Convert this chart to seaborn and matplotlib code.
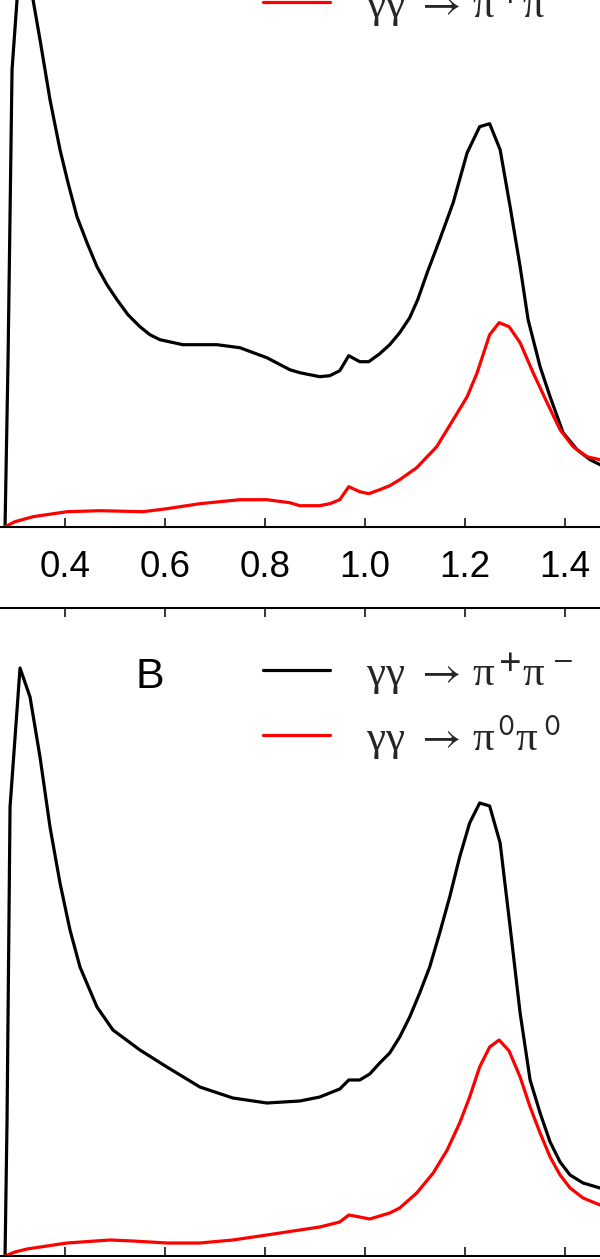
import numpy as np
import matplotlib
matplotlib.use("Agg")
import matplotlib.pyplot as plt
import seaborn as sns

# energy (GeV) and curves, arbitrary units
xa_black = [0.280, 0.286, 0.294, 0.304, 0.312, 0.322, 0.336, 0.350, 0.370, 0.390, 0.406,
            0.424, 0.444, 0.464, 0.484, 0.504, 0.526, 0.550, 0.570, 0.590, 0.636, 0.704,
            0.750, 0.804, 0.850, 0.870, 0.910, 0.930, 0.950, 0.968, 0.990, 1.008, 1.030,
            1.050, 1.070, 1.090, 1.106, 1.125, 1.150, 1.177, 1.205, 1.230, 1.250, 1.271,
            1.291, 1.311, 1.327, 1.351, 1.371, 1.397, 1.425, 1.451, 1.471, 1.480]
ya_black = [0.00, 1.67, 4.57, 5.27, 5.72, 5.57, 5.27, 4.87, 4.27, 3.77, 3.44,
            3.10, 2.84, 2.60, 2.42, 2.27, 2.12, 2.00, 1.92, 1.87, 1.82, 1.82,
            1.79, 1.69, 1.57, 1.54, 1.50, 1.51, 1.56, 1.71, 1.65, 1.65, 1.73,
            1.82, 1.94, 2.09, 2.27, 2.54, 2.87, 3.24, 3.74, 4.00, 4.03, 3.77,
            3.20, 2.60, 2.07, 1.60, 1.30, 0.94, 0.77, 0.67, 0.62, 0.60]

xa_red = [0.280, 0.300, 0.336, 0.404, 0.470, 0.556, 0.604, 0.670, 0.750, 0.804, 0.850, 0.870,
          0.910, 0.930, 0.950, 0.968, 0.990, 1.008, 1.030, 1.050, 1.070, 1.104, 1.144,
          1.177, 1.205, 1.225, 1.250, 1.269, 1.289, 1.311, 1.337, 1.365, 1.391, 1.417,
          1.445, 1.471, 1.480]
ya_red = [0.00, 0.05, 0.10, 0.15, 0.16, 0.15, 0.18, 0.23, 0.27, 0.27, 0.24, 0.21,
          0.21, 0.23, 0.27, 0.40, 0.35, 0.33, 0.37, 0.41, 0.47, 0.59, 0.80,
          1.07, 1.30, 1.54, 1.92, 2.04, 2.00, 1.84, 1.54, 1.24, 0.97, 0.80,
          0.70, 0.67, 0.66]

xb_black = [0.280, 0.284, 0.290, 0.310, 0.330, 0.350, 0.370, 0.390, 0.410, 0.430, 0.464,
            0.496, 0.550, 0.604, 0.670, 0.736, 0.804, 0.870, 0.910, 0.930, 0.950, 0.968,
            0.990, 1.010, 1.030, 1.050, 1.070, 1.090, 1.110, 1.130, 1.150, 1.170, 1.190,
            1.210, 1.230, 1.250, 1.271, 1.291, 1.311, 1.331, 1.351, 1.371, 1.391, 1.411,
            1.437, 1.471, 1.480]
yb_black = [0.00, 1.36, 4.49, 5.88, 5.59, 4.99, 4.29, 3.73, 3.26, 2.89, 2.49,
            2.26, 2.06, 1.89, 1.69, 1.58, 1.53, 1.55, 1.59, 1.63, 1.67, 1.76,
            1.76, 1.82, 1.93, 2.03, 2.19, 2.39, 2.63, 2.89, 3.23, 3.59, 3.99,
            4.33, 4.53, 4.50, 4.13, 3.29, 2.43, 1.76, 1.43, 1.14, 0.94, 0.81,
            0.73, 0.68, 0.67]

xb_red = [0.280, 0.300, 0.324, 0.404, 0.490, 0.536, 0.604, 0.670, 0.736, 0.804, 0.870, 0.910,
          0.950, 0.968, 0.990, 1.010, 1.050, 1.070, 1.104, 1.137, 1.165, 1.190, 1.210,
          1.230, 1.250, 1.269, 1.289, 1.311, 1.331, 1.351, 1.371, 1.391, 1.411, 1.437,
          1.471, 1.480]
yb_red = [0.00, 0.04, 0.07, 0.13, 0.16, 0.15, 0.13, 0.13, 0.16, 0.21, 0.26, 0.29,
          0.34, 0.41, 0.39, 0.37, 0.43, 0.48, 0.63, 0.83, 1.06, 1.33, 1.59,
          1.89, 2.09, 2.16, 2.05, 1.79, 1.49, 1.23, 0.99, 0.81, 0.68, 0.58,
          0.51, 0.50]

xticks = [0.4, 0.6, 0.8, 1.0, 1.2, 1.4]
pipm = r"γγ $\rightarrow\,$π$^{\,\mathbf{+}}$π$^{\ \mathsf{-}}$"
pi00 = r"γγ $\rightarrow\,$π$^{\,\mathsf{0}}$π$^{\ \mathsf{0}}$"
labels_a = [pi00, pipm]
labels_b = [pipm, pi00]

sns.set_theme(style="white")
plt.rcParams['font.family'] = ['Liberation Sans', 'DejaVu Sans']
plt.rcParams['mathtext.fontset'] = 'stix'

H = 1259
fig = plt.figure(figsize=(6, 12.59), dpi=100)
axA = fig.add_axes([0, (H - 526.7) / H, 1, 648 / H])
axB = fig.add_axes([0, (H - 1256) / H, 1, 648 / H])

# legend anchor (fraction of axes height from top) per panel
panels = [(axA, xa_black, ya_black, xa_red, ya_red, labels_a, "A", 1 - 39 / 648),
          (axB, xb_black, yb_black, xb_red, yb_red, labels_b, "B", 1 - 43 / 648)]

for ax, xk, yk, xr, yr, labs, letter, ly in panels:
    sns.lineplot(x=xk, y=yk, ax=ax, color="black", lw=2.3, label=labs[0], estimator=None)
    sns.lineplot(x=xr, y=yr, ax=ax, color="#ff0000", lw=2.3, label=labs[1], estimator=None)
    ax.set_xlim(0.2699, 1.4709)
    ax.set_ylim(0, 6.48)
    ax.set_xticks(xticks)
    ax.set_xticklabels([f"{t:.1f}" for t in xticks])
    ax.set_yticks([])
    for side in ["left", "right"]:
        ax.spines[side].set_visible(False)
    for side in ["top", "bottom"]:
        ax.spines[side].set_color("black")
        ax.spines[side].set_linewidth(1.5)
    ax.tick_params(axis="x", direction="in", length=6.3, width=1.1, top=True, bottom=True,
                   labelsize=26.5, pad=17, colors="black")
    ax.set_xlabel("")
    ax.set_ylabel("")
    ax.legend(loc="upper left", bbox_to_anchor=(263 / 600, ly), frameon=False,
              handlelength=1.55, handletextpad=0.85, labelspacing=0.38,
              borderpad=0, borderaxespad=0,
              prop={'family': ['Liberation Serif', 'DejaVu Serif'], 'size': 31})
    ax.text(150 / 600, 1 - 80 / 648, letter, transform=ax.transAxes, ha="center", va="baseline",
            fontsize=31, color="black")

fig.savefig("out.png", dpi=100)
